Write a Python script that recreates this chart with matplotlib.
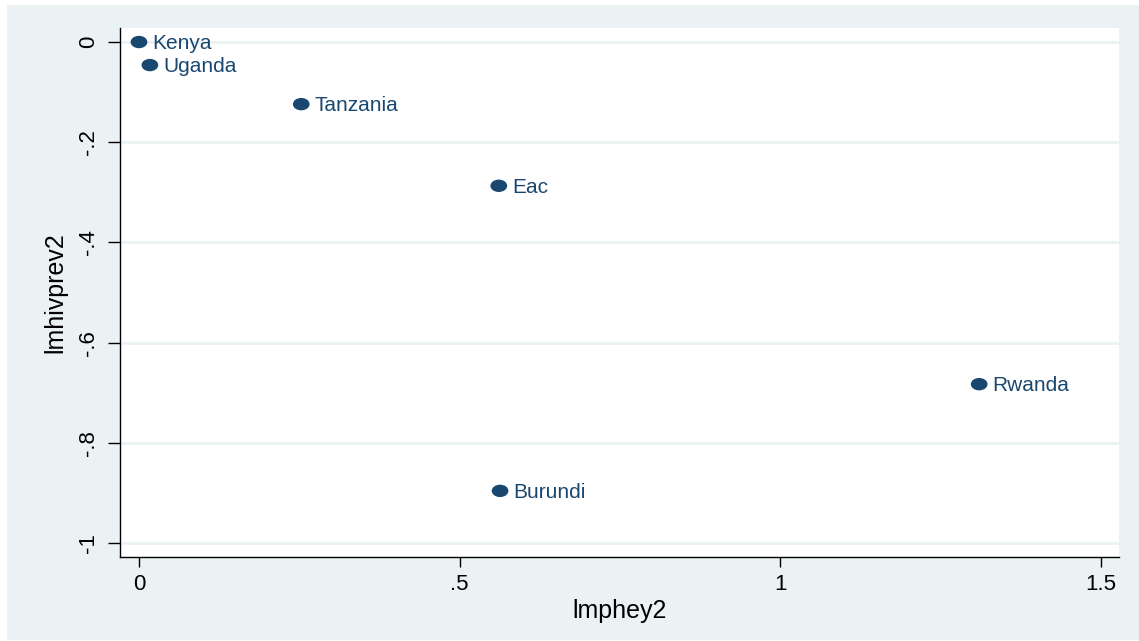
import matplotlib.pyplot as plt
from matplotlib.patches import Rectangle
from matplotlib.path import Path

plt.rcParams['font.family'] = ['Liberation Sans', 'DejaVu Sans']

# datos
paises = ['Kenya', 'Uganda', 'Tanzania', 'Eac', 'Rwanda', 'Burundi']
lmphey2 = [0.0, 0.017, 0.253, 0.561, 1.310, 0.563]
lmhivprev2 = [0.0, -0.046, -0.124, -0.287, -0.683, -0.896]

xticks = [0, 0.5, 1, 1.5]
xlabels = ['0', '.5', '1', '1.5']
yticks = [0, -0.2, -0.4, -0.6, -0.8, -1]
ylabels = ['0', '-.2', '-.4', '-.6', '-.8', '-1']

fondo = '#eaf2f3'
azul = '#1a476f'

# marcador un poco ovalado como en la imagen original
circ = Path.unit_circle()
ovalo = Path(circ.vertices * [1.35, 1.0], circ.codes)

fig = plt.figure(figsize=(11.39, 6.41), dpi=100, facecolor='white')
fig.patches.append(Rectangle((7 / 1139, 1 - 640 / 641), 1 - 7 / 1139, (640 - 5) / 641,
                             transform=fig.transFigure, facecolor=fondo, edgecolor='none', zorder=-1))

ax = fig.add_axes([120 / 1139, 1 - 557 / 641, (1119 - 120) / 1139, (557 - 28) / 641])
ax.set_facecolor('white')

ax.scatter(lmphey2, lmhivprev2, s=145, marker=ovalo, color=azul, zorder=3, edgecolors='none')
for p, x, y in zip(paises, lmphey2, lmhivprev2):
    ax.annotate(p, (x, y), xytext=(9.5, -1), textcoords='offset points',
                va='center', ha='left', fontsize=15, color=azul)

ax.set_xlim(-0.0296, 1.528)
ax.set_ylim(-1.028, 0.028)
ax.set_xticks(xticks)
ax.set_xticklabels(xlabels)
ax.set_yticks(yticks)
ax.set_yticklabels(ylabels, rotation=90, va='center')

ax.grid(axis='y', color=fondo, linewidth=2)
ax.set_axisbelow(True)

for s in ['top', 'right']:
    ax.spines[s].set_visible(False)
ax.spines['left'].set_linewidth(1)
ax.spines['bottom'].set_linewidth(1)

ax.tick_params(axis='y', length=9, width=1, labelsize=16, pad=6)
ax.tick_params(axis='x', length=7, width=1, labelsize=16, pad=5)

ax.set_xlabel('lmphey2', fontsize=18, labelpad=3)
ax.set_ylabel('lmhivprev2', fontsize=18, labelpad=8)

fig.savefig('out.png', dpi=100, facecolor=fig.get_facecolor())
